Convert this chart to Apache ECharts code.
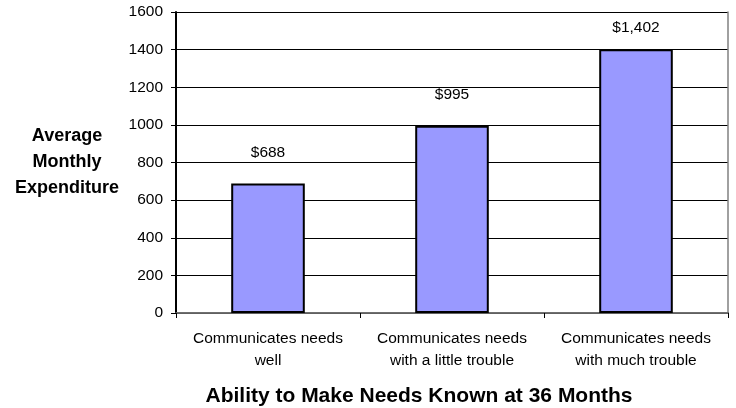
<!DOCTYPE html>
<html>
<head>
<meta charset="utf-8">
<script src="https://cdn.jsdelivr.net/npm/echarts@6/dist/echarts.min.js"></script>
<style>
  html, body { margin: 0; padding: 0; background: #fff; }
  #chart { width: 736px; height: 408px; }
</style>
</head>
<body>
<div id="chart"></div>
<script>
// Average monthly expenditure by ability to make needs known at 36 months
const categories = [
  'Communicates needs\nwell',
  'Communicates needs\nwith a little trouble',
  'Communicates needs\nwith much trouble'
];
const expenditure = [688, 995, 1402];
const yTicks = { min: 0, max: 1600, interval: 200 };

const fontFamily = '"Liberation Sans", Arial, sans-serif';

// The tallest bar's label sits closer so it stays inside the chart area
const barData = expenditure.map((v, i) =>
  i === expenditure.length - 1 ? { value: v, label: { distance: 14 } } : v
);

const chart = echarts.init(document.getElementById('chart'), null, { renderer: 'canvas' });

chart.setOption({
  animation: false,
  backgroundColor: '#ffffff',
  grid: { left: 176, right: 8, top: 12, bottom: 95 },
  graphic: [
    {
      type: 'text',
      x: 67,
      y: 162,
      style: {
        text: 'Average\nMonthly\nExpenditure',
        fontFamily: fontFamily,
        fontSize: 18,
        fontWeight: 'bold',
        lineHeight: 26,
        fill: '#000',
        align: 'center',
        verticalAlign: 'middle'
      }
    },
    {
      type: 'text',
      x: 419,
      y: 396,
      style: {
        text: 'Ability to Make Needs Known at 36 Months',
        fontFamily: fontFamily,
        fontSize: 21,
        fontWeight: 'bold',
        fill: '#000',
        align: 'center',
        verticalAlign: 'middle'
      }
    }
  ],
  xAxis: [
    {
      type: 'category',
      data: categories,
      axisLine: { lineStyle: { color: '#000', width: 1.5 } },
      axisTick: { show: true, length: 5, lineStyle: { color: '#000' } },
      axisLabel: {
        fontFamily: fontFamily, fontSize: 15.5, color: '#000',
        margin: 15, lineHeight: 22, interval: 0
      }
    },
    {
      // plot frame, top edge
      type: 'category',
      data: categories,
      position: 'top',
      axisLine: { show: true, lineStyle: { color: '#808080', width: 1.5 } },
      axisTick: { show: false },
      axisLabel: { show: false }
    }
  ],
  yAxis: [
    {
      type: 'value',
      min: yTicks.min,
      max: yTicks.max,
      interval: yTicks.interval,
      axisLine: { show: true, lineStyle: { color: '#000', width: 2 } },
      axisTick: { show: true, length: 5, lineStyle: { color: '#000' } },
      axisLabel: {
        fontFamily: fontFamily, fontSize: 15.5, color: '#000', margin: 13,
        formatter: v => String(v)
      },
      splitLine: { show: true, lineStyle: { color: '#000', width: 1 } }
    },
    {
      // plot frame, right edge
      type: 'value',
      position: 'right',
      min: yTicks.min,
      max: yTicks.max,
      interval: yTicks.interval,
      axisLine: { show: true, lineStyle: { color: '#808080', width: 1.5 } },
      axisTick: { show: false },
      axisLabel: { show: false },
      splitLine: { show: false }
    }
  ],
  series: [{
    type: 'bar',
    data: barData,
    barWidth: '40%',
    itemStyle: { color: '#9999FF', borderColor: '#000', borderWidth: 2 },
    label: {
      show: true,
      position: 'top',
      distance: 23,
      fontFamily: fontFamily,
      fontSize: 15.5,
      color: '#000',
      formatter: p => '$' + p.value.toLocaleString('en-US')
    }
  }]
});
</script>
</body>
</html>
